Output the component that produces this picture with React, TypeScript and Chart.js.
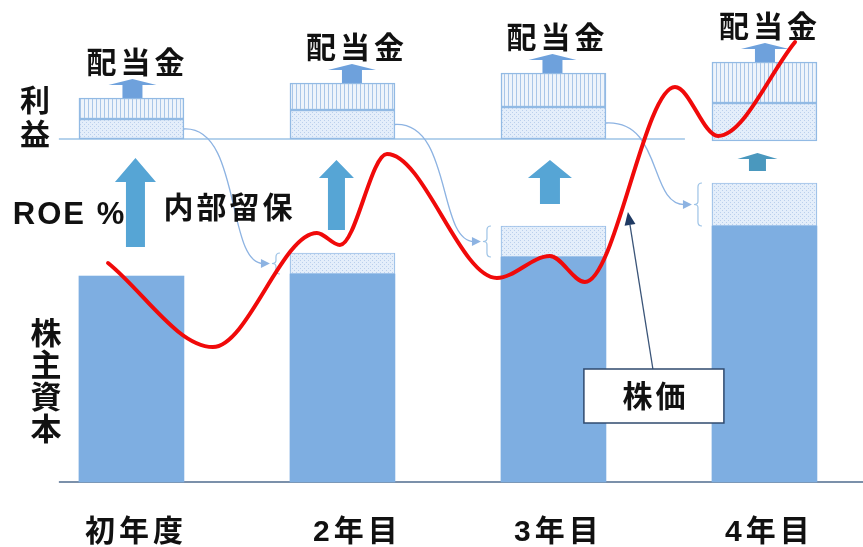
import React, { useEffect, useRef } from 'react';
import { Chart, registerables } from 'chart.js';

Chart.register(...registerables);

// ---------- data (x: year index, y: value units; baseline = 0) ----------
const categories = ['初年度', '2年目', '3年目', '4年目'];
const equity = [103, 104, 112.5, 128];            // 株主資本 (solid part)
const retainedAdded = [0, 10.5, 15.5, 21.5];       // 内部留保 added on top of equity
const profitBase = [171.5, 171.5, 171.5, 170.5];   // 利益 baseline
const profitRetained = [10, 14.5, 16, 19];         // 利益 → 内部留保 part
const dividends = [10.5, 13.5, 17, 20.5];          // 利益 → 配当金 part
const roeFrom = [117.5, 126, 139, 155.5];          // ROE arrows
const roeTo = [162, 161, 161, 164.5];
const priceX = [-0.111, 0.386, 0.879, 0.988, 1.211, 1.732, 1.983, 2.149, 2.576, 2.780, 3.145];
const priceY = [109.5, 67.5, 124.5, 118.5, 164, 102, 113, 100, 197.5, 173, 220];

// ---------- annotation placement (data units) & styles ----------
const ANN = {
  lineStart: -0.344,
  profitLineEnd: 2.623,
  naibu: [0.457, 137.5],
  roe: [-0.562, 133.5],
  rieki: [-0.457, 182.5],
  kabunushi: [-0.405, 51],
  catY: -25.5,
  callout: [2.476, 43],
  calloutTip: [2.353, 135],
};
const roeStyle = {
  dx: [4, -6, -3.5, -7],
  shaft: [19, 17, 20, 17],
  head: [41, 35, 44, 40],
  headH: [24, 18, 18, 6],
  color: ['#56A5D5', '#56A5D5', '#56A5D5', '#4A98BE'],
};
const divDx = [1, 9.5, -1, 0.5];
const catDx = [2.5, 13, 3, 3];

const fontCJK = "'Noto Sans CJK JP', 'Noto Sans CJK SC', sans-serif";
const fontMix = "'Liberation Sans', 'Noto Sans CJK JP', sans-serif";

function spaced(ctx: CanvasRenderingContext2D, text: string, x: number, y: number, spacing: number, align = 'center') {
  const chars = Array.from(text);
  const w = chars.map((c) => ctx.measureText(c).width);
  const total = w.reduce((a, b) => a + b, 0) + spacing * (chars.length - 1);
  let cx = align === 'center' ? x - total / 2 : x;
  ctx.textAlign = 'left';
  ctx.textBaseline = 'middle';
  chars.forEach((c, k) => {
    ctx.fillText(c, cx, y);
    cx += w[k] + spacing;
  });
}
function vertical(ctx: CanvasRenderingContext2D, text: string, x: number, yc: number, pitch: number) {
  const chars = Array.from(text);
  ctx.textAlign = 'center';
  ctx.textBaseline = 'middle';
  const y0 = yc - (pitch * (chars.length - 1)) / 2;
  chars.forEach((c, k) => ctx.fillText(c, x, y0 + k * pitch));
}

function makePattern(w: number, h: number, draw: (g: CanvasRenderingContext2D) => void) {
  const c = document.createElement('canvas');
  c.width = w;
  c.height = h;
  const g = c.getContext('2d')!;
  draw(g);
  return g.createPattern(c, 'repeat')!;
}

const diagram = {
  id: 'diagram',
  beforeDatasetsDraw(chart: any) {
    const ctx: CanvasRenderingContext2D = chart.ctx;
    const X = (v: number) => chart.scales.x.getPixelForValue(v);
    const Y = (v: number) => chart.scales.y.getPixelForValue(v);
    const bar = (i: number) => chart.getDatasetMeta(1).data[i] as any;
    ctx.save();
    // baseline
    ctx.strokeStyle = '#4F6B8E';
    ctx.lineWidth = 1.5;
    ctx.beginPath();
    ctx.moveTo(X(ANN.lineStart), Y(0));
    ctx.lineTo(chart.width, Y(0));
    ctx.stroke();
    // profit line
    ctx.strokeStyle = '#9DC3E6';
    ctx.beginPath();
    ctx.moveTo(X(ANN.lineStart), Y(profitBase[0]));
    ctx.lineTo(X(ANN.profitLineEnd), Y(profitBase[0]));
    ctx.stroke();

    // connectors + brackets
    for (let i = 0; i < categories.length - 1; i++) {
      const b0 = bar(i), b1 = bar(i + 1);
      const x0 = b0.x + b0.width / 2;
      const y0 = Y(profitBase[i] + profitRetained[i] / 2);
      const bx = b1.x - b1.width / 2 - 14;
      const top = Y(equity[i + 1] + retainedAdded[i + 1]);
      const bot = Y(equity[i + 1]);
      const mid = (top + bot) / 2;
      const x3 = bx - 6, y3 = mid;
      const dx = x3 - x0;
      ctx.strokeStyle = '#8DB3E2';
      ctx.lineWidth = 1.3;
      ctx.beginPath();
      ctx.moveTo(x0, y0);
      ctx.bezierCurveTo(x0 + 0.67 * dx, y0 - 3, x0 + 0.49 * dx, y3 + 2, x3 - 6, y3);
      ctx.stroke();
      ctx.fillStyle = '#8DB3E2';
      ctx.beginPath();
      ctx.moveTo(x3, y3);
      ctx.lineTo(x3 - 9, y3 - 4.5);
      ctx.lineTo(x3 - 9, y3 + 4.5);
      ctx.closePath();
      ctx.fill();
      // bracket "{"
      ctx.strokeStyle = '#9DC3E6';
      ctx.lineWidth = 1.2;
      ctx.beginPath();
      ctx.moveTo(bx + 4, top);
      ctx.quadraticCurveTo(bx, top, bx, top + 4);
      ctx.lineTo(bx, mid - 3);
      ctx.quadraticCurveTo(bx, mid, bx - 4, mid);
      ctx.quadraticCurveTo(bx, mid, bx, mid + 3);
      ctx.lineTo(bx, bot - 4);
      ctx.quadraticCurveTo(bx, bot, bx + 4, bot);
      ctx.stroke();
    }

    // ROE arrows
    for (let i = 0; i < categories.length; i++) {
      const cx = X(i) + roeStyle.dx[i];
      const yb = Y(roeFrom[i]), yt = Y(roeTo[i]);
      const sw = roeStyle.shaft[i] / 2, hw = roeStyle.head[i] / 2, hh = roeStyle.headH[i];
      ctx.fillStyle = roeStyle.color[i];
      ctx.beginPath();
      ctx.moveTo(cx - sw, yb);
      ctx.lineTo(cx - sw, yt + hh);
      ctx.lineTo(cx - hw, yt + hh);
      ctx.lineTo(cx, yt);
      ctx.lineTo(cx + hw, yt + hh);
      ctx.lineTo(cx + sw, yt + hh);
      ctx.lineTo(cx + sw, yb);
      ctx.closePath();
      ctx.fill();
    }

    // dividend arrows
    for (let i = 0; i < categories.length; i++) {
      const cx = X(i) + divDx[i];
      const base = Y(profitBase[i] + profitRetained[i] + dividends[i]);
      const apex = base - 19;
      const hb = apex + 6;
      ctx.fillStyle = '#6EA1DC';
      ctx.beginPath();
      ctx.moveTo(cx - 10, base);
      ctx.lineTo(cx - 10, hb);
      ctx.lineTo(cx - 24, hb);
      ctx.lineTo(cx, apex);
      ctx.lineTo(cx + 24, hb);
      ctx.lineTo(cx + 10, hb);
      ctx.lineTo(cx + 10, base);
      ctx.closePath();
      ctx.fill();
    }
    ctx.restore();
  },
  afterDatasetsDraw(chart: any) {
    const ctx: CanvasRenderingContext2D = chart.ctx;
    const X = (v: number) => chart.scales.x.getPixelForValue(v);
    const Y = (v: number) => chart.scales.y.getPixelForValue(v);
    ctx.save();

    // callout 株価
    const cx = X(ANN.callout[0]), cy = Y(ANN.callout[1]);
    const bw = 140, bh = 54;
    const tx = X(ANN.calloutTip[0]), ty = Y(ANN.calloutTip[1]);
    const sx = cx - 1, sy = cy - bh / 2;
    const ang = Math.atan2(ty - sy, tx - sx);
    const hl = 13, hw = 5.5;
    const bxp = tx - hl * Math.cos(ang), byp = ty - hl * Math.sin(ang);
    ctx.strokeStyle = '#3A5478';
    ctx.lineWidth = 1.3;
    ctx.beginPath();
    ctx.moveTo(sx, sy);
    ctx.lineTo(bxp, byp);
    ctx.stroke();
    ctx.fillStyle = '#1F3A63';
    ctx.beginPath();
    ctx.moveTo(tx, ty);
    ctx.lineTo(bxp + hw * Math.sin(ang), byp - hw * Math.cos(ang));
    ctx.lineTo(bxp - hw * Math.sin(ang), byp + hw * Math.cos(ang));
    ctx.closePath();
    ctx.fill();
    ctx.fillStyle = '#FFFFFF';
    ctx.fillRect(cx - bw / 2, cy - bh / 2, bw, bh);
    ctx.strokeStyle = '#2F4A6E';
    ctx.lineWidth = 1.5;
    ctx.strokeRect(cx - bw / 2, cy - bh / 2, bw, bh);

    ctx.fillStyle = '#111111';
    ctx.font = `bold 30px ${fontCJK}`;
    spaced(ctx, '株価', cx, cy, 3);

    // 配当金 labels
    ctx.font = `bold 30px ${fontCJK}`;
    for (let i = 0; i < categories.length; i++) {
      const x = X(i) + divDx[i] + 3;
      const base = Y(profitBase[i] + profitRetained[i] + dividends[i]);
      spaced(ctx, '配当金', x, base - 36, 4);
    }

    // 内部留保
    ctx.font = `bold 30px ${fontCJK}`;
    spaced(ctx, '内部留保', X(ANN.naibu[0]), Y(ANN.naibu[1]), 3);

    // ROE %
    ctx.font = `bold 31px ${fontMix}`;
    spaced(ctx, 'ROE %', X(ANN.roe[0]), Y(ANN.roe[1]), 2, 'left');

    // 利益 (vertical)
    ctx.font = `bold 30px ${fontCJK}`;
    vertical(ctx, '利益', X(ANN.rieki[0]), Y(ANN.rieki[1]), 34);

    // 株主資本 (vertical)
    ctx.font = `bold 31px ${fontCJK}`;
    vertical(ctx, '株主資本', X(ANN.kabunushi[0]), Y(ANN.kabunushi[1]), 32);

    // categories
    ctx.font = `bold 30px ${fontMix}`;
    categories.forEach((c, i) => spaced(ctx, c, X(i) + catDx[i], Y(ANN.catY), 4));

    ctx.restore();
  },
};

export default function App() {
  const ref = useRef<HTMLCanvasElement>(null);
  useEffect(() => {
    const canvas = ref.current!;
    const dot = makePattern(4, 4, (g) => {
      g.fillStyle = '#E4EEFA';
      g.fillRect(0, 0, 4, 4);
      g.fillStyle = '#BACFEC';
      g.fillRect(0, 0, 1, 1);
      g.fillRect(2, 2, 1, 1);
    });
    const vline = makePattern(4, 4, (g) => {
      g.fillStyle = '#EEF4FB';
      g.fillRect(0, 0, 4, 4);
      g.fillStyle = '#A9C6E8';
      g.fillRect(0, 0, 1, 4);
    });
    const idx = categories.map((_, i) => i);
    const boxCommon = {
      type: 'bar' as const,
      grouped: false,
      barThickness: 105,
      borderSkipped: false as const,
      order: 1,
    };
    const chart = new Chart(canvas, {
      type: 'bar',
      data: {
        datasets: [
          {
            type: 'line',
            label: '株価',
            data: priceX.map((x, i) => ({ x, y: priceY[i] })),
            borderColor: '#F00A0A',
            borderWidth: 4,
            pointRadius: 0,
            cubicInterpolationMode: 'monotone',
            borderCapStyle: 'round',
            borderJoinStyle: 'round',
            fill: false,
            order: 0,
          } as any,
          {
            ...boxCommon,
            label: '株主資本',
            data: idx.map((i) => ({ x: i, y: equity[i] })),
            backgroundColor: '#7EAEE1',
            borderWidth: 0,
          } as any,
          {
            ...boxCommon,
            label: '内部留保（累積）',
            data: idx.map((i) => ({ x: i, y: [equity[i], equity[i] + retainedAdded[i]] })),
            backgroundColor: dot,
            borderColor: '#9CC0E8',
            borderWidth: (c: any) => (retainedAdded[c.dataIndex] > 0 ? 1.2 : 0),
          } as any,
          {
            ...boxCommon,
            label: '利益（内部留保分）',
            data: idx.map((i) => ({ x: i, y: [profitBase[i], profitBase[i] + profitRetained[i]] })),
            backgroundColor: dot,
            borderColor: '#92BAE4',
            borderWidth: 1.5,
          } as any,
          {
            ...boxCommon,
            label: '配当金',
            data: idx.map((i) => ({
              x: i,
              y: [profitBase[i] + profitRetained[i], profitBase[i] + profitRetained[i] + dividends[i]],
            })),
            backgroundColor: vline,
            borderColor: '#92BAE4',
            borderWidth: 1.5,
          } as any,
        ],
      },
      options: {
        responsive: false,
        animation: false,
        layout: { padding: 0 },
        scales: {
          x: { type: 'linear', min: -0.623, max: 3.467, offset: false, display: false },
          y: { type: 'linear', min: -32.5, max: 241, display: false },
        },
        plugins: { legend: { display: false }, tooltip: { enabled: false } },
      },
      plugins: [diagram],
    });
    return () => chart.destroy();
  }, []);
  return (
    <div style={{ position: 'fixed', left: 0, top: 0, width: 863, height: 547, background: '#fff' }}>
      <canvas ref={ref} width={863} height={547} style={{ display: 'block', width: '863px', height: '547px' }} />
    </div>
  );
}
